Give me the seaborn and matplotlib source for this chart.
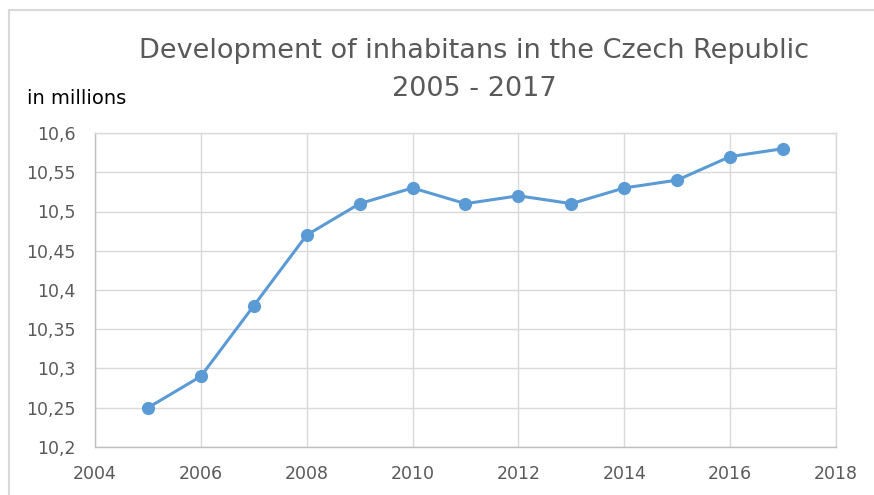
import numpy as np
import pandas as pd
import matplotlib
matplotlib.use("Agg")
import matplotlib.pyplot as plt
import seaborn as sns
from matplotlib.patches import Rectangle
from matplotlib.ticker import FuncFormatter, MultipleLocator

sns.set_theme(style="whitegrid")
plt.rcParams['font.family'] = ['DejaVu Sans']

years = [2005, 2006, 2007, 2008, 2009, 2010, 2011, 2012, 2013, 2014, 2015, 2016, 2017]
inhabitants = [10.25, 10.29, 10.38, 10.47, 10.51, 10.53, 10.51, 10.52, 10.51, 10.53, 10.54, 10.57, 10.58]
title_text = "Development of inhabitans in the Czech Republic\n2005 - 2017"
unit_label = "in millions"

df = pd.DataFrame({"year": years, "value": inhabitants})

line_color = "#5B9BD5"
text_grey = "#595959"
grid_grey = "#D9D9D9"

fig = plt.figure(figsize=(8.74, 4.95), dpi=100)
ax = fig.add_axes([95 / 874, 1 - 447 / 495, (836 - 95) / 874, (447 - 133) / 495])

sns.lineplot(data=df, x="year", y="value", ax=ax, color=line_color, linewidth=2.2,
             marker="o", markersize=9.5, markeredgewidth=0, markerfacecolor=line_color)

ax.set_xlim(2004, 2018)
ax.set_ylim(10.2, 10.6)
ax.xaxis.set_major_locator(MultipleLocator(2))
ax.yaxis.set_major_locator(MultipleLocator(0.05))

def comma_fmt(v, pos):
    s = ("%.2f" % v).rstrip("0").rstrip(".")
    return s.replace(".", ",")

ax.yaxis.set_major_formatter(FuncFormatter(comma_fmt))
ax.xaxis.set_major_formatter(FuncFormatter(lambda v, pos: "%d" % v))

ax.grid(True, color=grid_grey, linewidth=1)
for s in ax.spines.values():
    s.set_color(grid_grey)
    s.set_linewidth(1)
ax.spines["left"].set_color("#BFBFBF")
ax.spines["bottom"].set_color("#BFBFBF")
ax.tick_params(axis="both", labelsize=12.5, colors=text_grey, length=0)
ax.tick_params(axis="y", pad=14)
ax.tick_params(axis="x", pad=13)
ax.set_xlabel("")
ax.set_ylabel("")

fig.text(474 / 874, 1 - 70 / 495, title_text, ha="center", va="center",
         fontsize=19.5, color=text_grey, linespacing=1.6)
fig.text(27 / 874, 1 - 98 / 495, unit_label, ha="left", va="center",
         fontsize=14, color="black")

# outer chart frame
fig.patches.append(Rectangle((9 / 874, -0.05), 1.0, 1 - 10 / 495 + 0.05,
                             transform=fig.transFigure, fill=False,
                             edgecolor="#D9D9D9", linewidth=1.5))

fig.savefig("out.png", dpi=100)
